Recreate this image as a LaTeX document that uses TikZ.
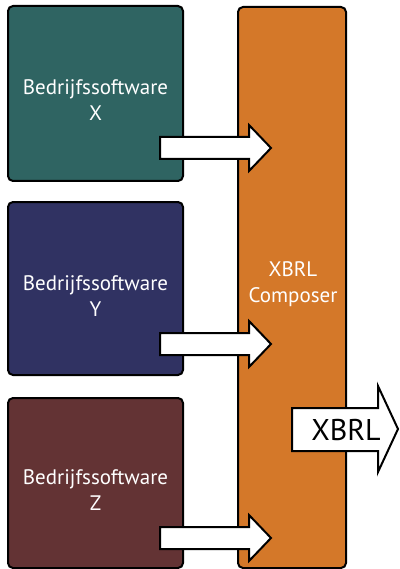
\documentclass[tikz,border=0pt]{standalone}
\usepackage{fontspec}
\setmainfont{PT Sans}
\definecolor{tealbox}{HTML}{2F6462}
\definecolor{navybox}{HTML}{303262}
\definecolor{maroonbox}{HTML}{633334}
\definecolor{orangebox}{HTML}{D47829}
\begin{document}
\begin{tikzpicture}[x=1pt,y=-1pt,
  swbox/.style={draw=black,line width=2pt,rounded corners=5pt},
  blockarrow/.style={draw=black,line width=2pt,fill=white,line join=miter},
  boxtext/.style={text=white,align=center,font=\fontsize{21}{26}\selectfont},
]
\useasboundingbox (0,0) rectangle (399,569);
% software boxes
\draw[swbox,fill=tealbox]   (8,6)   rectangle (183,181);
\draw[swbox,fill=navybox]   (8,202) rectangle (183,375);
\draw[swbox,fill=maroonbox] (8,398) rectangle (183,568);
% composer
\draw[swbox,fill=orangebox] (238,7) rectangle (346,568);
% labels
\node[boxtext] (sx) at (95.5,100) {Bedrijfssoftware\\X};
\node[boxtext] (sy) at (95.5,296) {Bedrijfssoftware\\Y};
\node[boxtext] (sz) at (95.5,490) {Bedrijfssoftware\\Z};
\node[boxtext] (comp) at (293,284) {XBRL\\Composer};
% input arrows
\foreach \m in {148,344,538}{
  \draw[blockarrow] (160,\m-11) -- (249,\m-11) -- (249,\m-23) -- (271,\m)
    -- (249,\m+23) -- (249,\m+11) -- (160,\m+11) -- cycle;
}
% output arrow
\draw[blockarrow] (292,408) -- (378,408) -- (378,386) -- (398,429)
  -- (378,472) -- (378,451) -- (292,451) -- cycle;
\node[font=\fontsize{30}{31}\selectfont,text=black] (xbrl) at (346,430) {XBRL};
\end{tikzpicture}
\end{document}
